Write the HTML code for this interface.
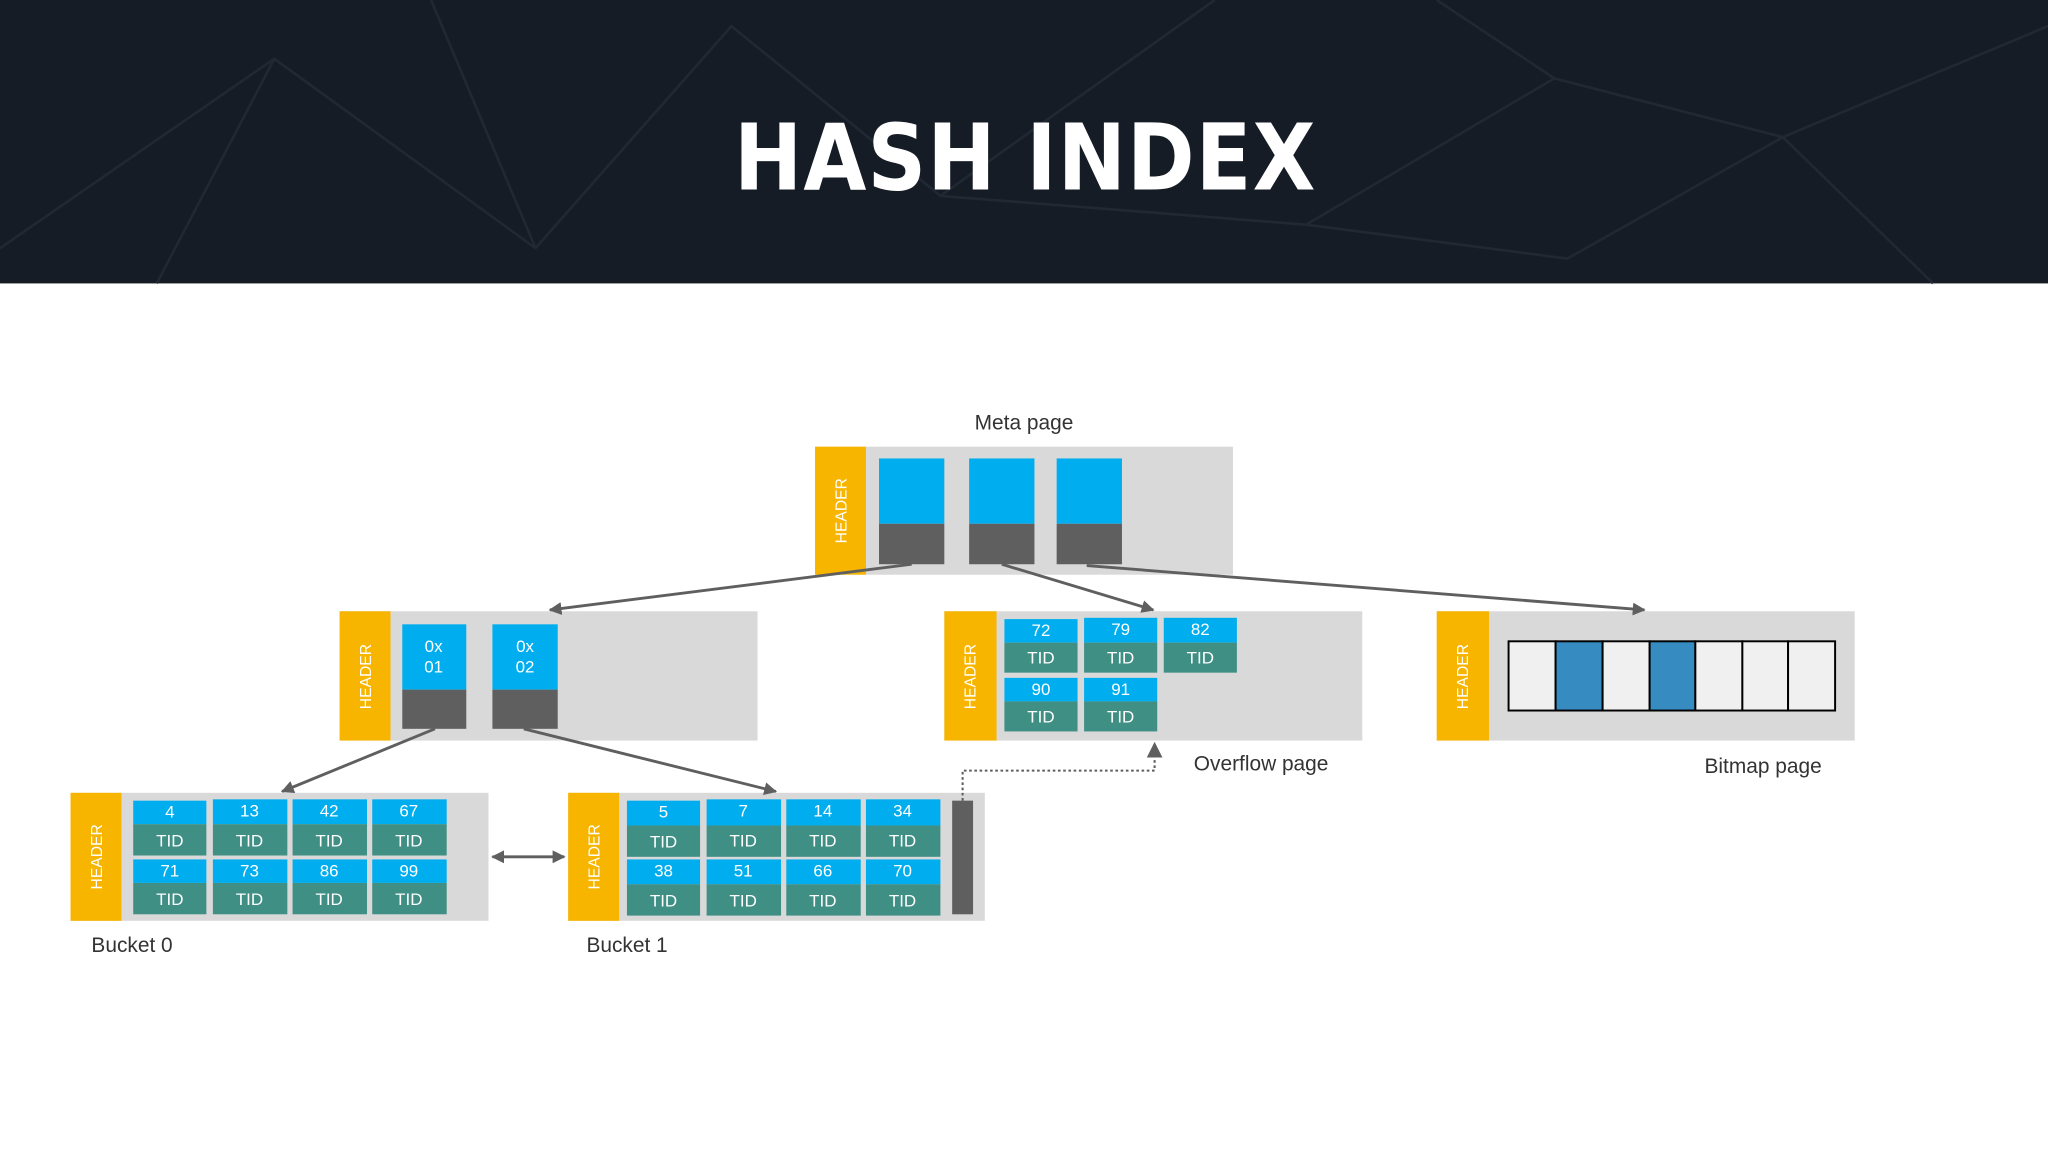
<!DOCTYPE html>
<html><head><meta charset="utf-8"><style>
html,body{margin:0;padding:0;background:#fff;}
svg{display:block;}
text{font-family:"Liberation Sans",sans-serif;}
</style></head><body>
<svg width="2048" height="1152" viewBox="0 0 1568 882" xmlns="http://www.w3.org/2000/svg">
<defs>
<marker id="ah" viewBox="0 0 10 10" refX="9" refY="5" markerWidth="4.5" markerHeight="4.5" orient="auto-start-reverse"><path d="M0,0 L10,5 L0,10 z" fill="#5f5f5f"/></marker>
</defs>
<rect width="1568" height="882" fill="#fff"/>
<rect width="1568" height="217" fill="#161c25"/>
<g stroke="#222a35" stroke-width="2" fill="none" opacity="0.9">
<path d="M0,190 L210,45 L410,190 L560,20 L720,150 L930,0"/>
<path d="M210,45 L120,217 M410,190 L330,0 M1000,172 L1190,60 L1365,105 L1568,20"/>
<path d="M1000,172 L1200,198 L1365,105 L1480,217 M1190,60 L1100,0 M720,150 L1000,172"/>
</g>
<text x="785" y="145" text-anchor="middle" font-size="70" font-weight="900" fill="#fff" style="font-family:'DejaVu Sans','Liberation Sans',sans-serif;letter-spacing:1px" textLength="446" lengthAdjust="spacingAndGlyphs">HASH INDEX</text>

<!-- Meta page -->
<text x="784" y="329" text-anchor="middle" font-size="16" fill="#333">Meta page</text>
<rect x="624" y="342" width="320" height="98" fill="#d9d9d9"/>
<rect x="624" y="342" width="39" height="98" fill="#f7b500"/>
<text transform="translate(648,391) rotate(-90)" text-anchor="middle" font-size="12" fill="#fff">HEADER</text>
<g>
<rect x="673" y="351" width="50" height="50" fill="#00aeef"/><rect x="673" y="401" width="50" height="31" fill="#5f5f5f"/>
<rect x="742" y="351" width="50" height="50" fill="#00aeef"/><rect x="742" y="401" width="50" height="31" fill="#5f5f5f"/>
<rect x="809" y="351" width="50" height="50" fill="#00aeef"/><rect x="809" y="401" width="50" height="31" fill="#5f5f5f"/>
</g>

<!-- Middle left -->
<rect x="260" y="468" width="320" height="99" fill="#d9d9d9"/>
<rect x="260" y="468" width="39" height="99" fill="#f7b500"/>
<text transform="translate(284,518) rotate(-90)" text-anchor="middle" font-size="12" fill="#fff">HEADER</text>
<rect x="308" y="478" width="49" height="50" fill="#00aeef"/><rect x="308" y="528" width="49" height="30" fill="#5f5f5f"/>
<rect x="377" y="478" width="50" height="50" fill="#00aeef"/><rect x="377" y="528" width="50" height="30" fill="#5f5f5f"/>
<text x="332" y="499" text-anchor="middle" font-size="13" fill="#fff">0x</text><text x="332" y="515" text-anchor="middle" font-size="13" fill="#fff">01</text>
<text x="402" y="499" text-anchor="middle" font-size="13" fill="#fff">0x</text><text x="402" y="515" text-anchor="middle" font-size="13" fill="#fff">02</text>

<!-- Overflow -->
<rect x="723" y="468" width="320" height="99" fill="#d9d9d9"/>
<rect x="723" y="468" width="40" height="99" fill="#f7b500"/>
<text transform="translate(747,518) rotate(-90)" text-anchor="middle" font-size="12" fill="#fff">HEADER</text>
<g font-size="13" fill="#fff" text-anchor="middle">
<rect x="769" y="474" width="56" height="18" fill="#00aeef"/><rect x="769" y="492" width="56" height="23" fill="#3f8f85"/>
<text x="797" y="487">72</text><text x="797" y="508">TID</text>
<rect x="830" y="473" width="56" height="19" fill="#00aeef"/><rect x="830" y="492" width="56" height="23" fill="#3f8f85"/>
<text x="858" y="486">79</text><text x="858" y="508">TID</text>
<rect x="891" y="473" width="56" height="19" fill="#00aeef"/><rect x="891" y="492" width="56" height="23" fill="#3f8f85"/>
<text x="919" y="486">82</text><text x="919" y="508">TID</text>
<rect x="769" y="519" width="56" height="18" fill="#00aeef"/><rect x="769" y="537" width="56" height="23" fill="#3f8f85"/>
<text x="797" y="532">90</text><text x="797" y="553">TID</text>
<rect x="830" y="519" width="56" height="18" fill="#00aeef"/><rect x="830" y="537" width="56" height="23" fill="#3f8f85"/>
<text x="858" y="532">91</text><text x="858" y="553">TID</text>
</g>
<text x="914" y="590" font-size="16" fill="#333">Overflow page</text>

<!-- Bitmap -->
<rect x="1100" y="468" width="320" height="99" fill="#d9d9d9"/>
<rect x="1100" y="468" width="40" height="99" fill="#f7b500"/>
<text transform="translate(1124,518) rotate(-90)" text-anchor="middle" font-size="12" fill="#fff">HEADER</text>
<g stroke="#000" stroke-width="1.5">
<rect x="1155" y="491" width="36" height="53" fill="#f0f0f0"/>
<rect x="1191" y="491" width="36" height="53" fill="#368bc1"/>
<rect x="1227" y="491" width="36" height="53" fill="#f0f0f0"/>
<rect x="1263" y="491" width="35" height="53" fill="#368bc1"/>
<rect x="1298" y="491" width="36" height="53" fill="#f0f0f0"/>
<rect x="1334" y="491" width="35" height="53" fill="#f0f0f0"/>
<rect x="1369" y="491" width="36" height="53" fill="#f0f0f0"/>
</g>
<text x="1305" y="592" font-size="16" fill="#333">Bitmap page</text>

<!-- Bucket 0 -->
<rect x="54" y="607" width="320" height="98" fill="#d9d9d9"/>
<rect x="54" y="607" width="39" height="98" fill="#f7b500"/>
<text transform="translate(78,656) rotate(-90)" text-anchor="middle" font-size="12" fill="#fff">HEADER</text>
<g font-size="13" fill="#fff" text-anchor="middle">
<rect x="102" y="613" width="56" height="18" fill="#00aeef"/><rect x="102" y="631" width="56" height="24" fill="#3f8f85"/><text x="130" y="626">4</text><text x="130" y="648">TID</text>
<rect x="163" y="612" width="57" height="19" fill="#00aeef"/><rect x="163" y="631" width="57" height="24" fill="#3f8f85"/><text x="191" y="625">13</text><text x="191" y="648">TID</text>
<rect x="224" y="612" width="57" height="19" fill="#00aeef"/><rect x="224" y="631" width="57" height="24" fill="#3f8f85"/><text x="252" y="625">42</text><text x="252" y="648">TID</text>
<rect x="285" y="612" width="57" height="19" fill="#00aeef"/><rect x="285" y="631" width="57" height="24" fill="#3f8f85"/><text x="313" y="625">67</text><text x="313" y="648">TID</text>
<rect x="102" y="658" width="56" height="18" fill="#00aeef"/><rect x="102" y="676" width="56" height="24" fill="#3f8f85"/><text x="130" y="671">71</text><text x="130" y="693">TID</text>
<rect x="163" y="658" width="57" height="18" fill="#00aeef"/><rect x="163" y="676" width="57" height="24" fill="#3f8f85"/><text x="191" y="671">73</text><text x="191" y="693">TID</text>
<rect x="224" y="658" width="57" height="18" fill="#00aeef"/><rect x="224" y="676" width="57" height="24" fill="#3f8f85"/><text x="252" y="671">86</text><text x="252" y="693">TID</text>
<rect x="285" y="658" width="57" height="18" fill="#00aeef"/><rect x="285" y="676" width="57" height="24" fill="#3f8f85"/><text x="313" y="671">99</text><text x="313" y="693">TID</text>
</g>
<text x="70" y="729" font-size="16" fill="#333">Bucket 0</text>

<!-- Bucket 1 -->
<rect x="435" y="607" width="319" height="98" fill="#d9d9d9"/>
<rect x="435" y="607" width="39" height="98" fill="#f7b500"/>
<text transform="translate(459,656) rotate(-90)" text-anchor="middle" font-size="12" fill="#fff">HEADER</text>
<g font-size="13" fill="#fff" text-anchor="middle">
<rect x="480" y="613" width="56" height="19" fill="#00aeef"/><rect x="480" y="632" width="56" height="24" fill="#3f8f85"/><text x="508" y="626">5</text><text x="508" y="649">TID</text>
<rect x="541" y="612" width="57" height="20" fill="#00aeef"/><rect x="541" y="632" width="57" height="24" fill="#3f8f85"/><text x="569" y="625">7</text><text x="569" y="648">TID</text>
<rect x="602" y="612" width="57" height="20" fill="#00aeef"/><rect x="602" y="632" width="57" height="24" fill="#3f8f85"/><text x="630" y="625">14</text><text x="630" y="648">TID</text>
<rect x="663" y="612" width="57" height="20" fill="#00aeef"/><rect x="663" y="632" width="57" height="24" fill="#3f8f85"/><text x="691" y="625">34</text><text x="691" y="648">TID</text>
<rect x="480" y="658" width="56" height="19" fill="#00aeef"/><rect x="480" y="677" width="56" height="24" fill="#3f8f85"/><text x="508" y="671">38</text><text x="508" y="694">TID</text>
<rect x="541" y="658" width="57" height="19" fill="#00aeef"/><rect x="541" y="677" width="57" height="24" fill="#3f8f85"/><text x="569" y="671">51</text><text x="569" y="694">TID</text>
<rect x="602" y="658" width="57" height="19" fill="#00aeef"/><rect x="602" y="677" width="57" height="24" fill="#3f8f85"/><text x="630" y="671">66</text><text x="630" y="694">TID</text>
<rect x="663" y="658" width="57" height="19" fill="#00aeef"/><rect x="663" y="677" width="57" height="24" fill="#3f8f85"/><text x="691" y="671">70</text><text x="691" y="694">TID</text>
</g>
<rect x="729" y="613" width="16" height="87" fill="#5f5f5f"/>
<text x="449" y="729" font-size="16" fill="#333">Bucket 1</text>

<!-- Connectors -->
<g stroke="#5f5f5f" stroke-width="2.2" fill="none">
<line x1="698" y1="432" x2="421" y2="467" marker-end="url(#ah)"/>
<line x1="767" y1="432" x2="883" y2="467" marker-end="url(#ah)"/>
<line x1="832" y1="433" x2="1259" y2="467" marker-end="url(#ah)"/>
<line x1="333" y1="558" x2="216" y2="606" marker-end="url(#ah)"/>
<line x1="401" y1="558" x2="594" y2="606" marker-end="url(#ah)"/>
<line x1="377" y1="656" x2="432" y2="656" marker-start="url(#ah)" marker-end="url(#ah)"/>
</g>
<path d="M737,613 V590 H884 V570" stroke="#5f5f5f" stroke-width="1.6" stroke-dasharray="2,2" fill="none"/>
<path d="M878,580 L884,568 L890,580 z" fill="#5f5f5f"/>
</svg>
</body></html>
